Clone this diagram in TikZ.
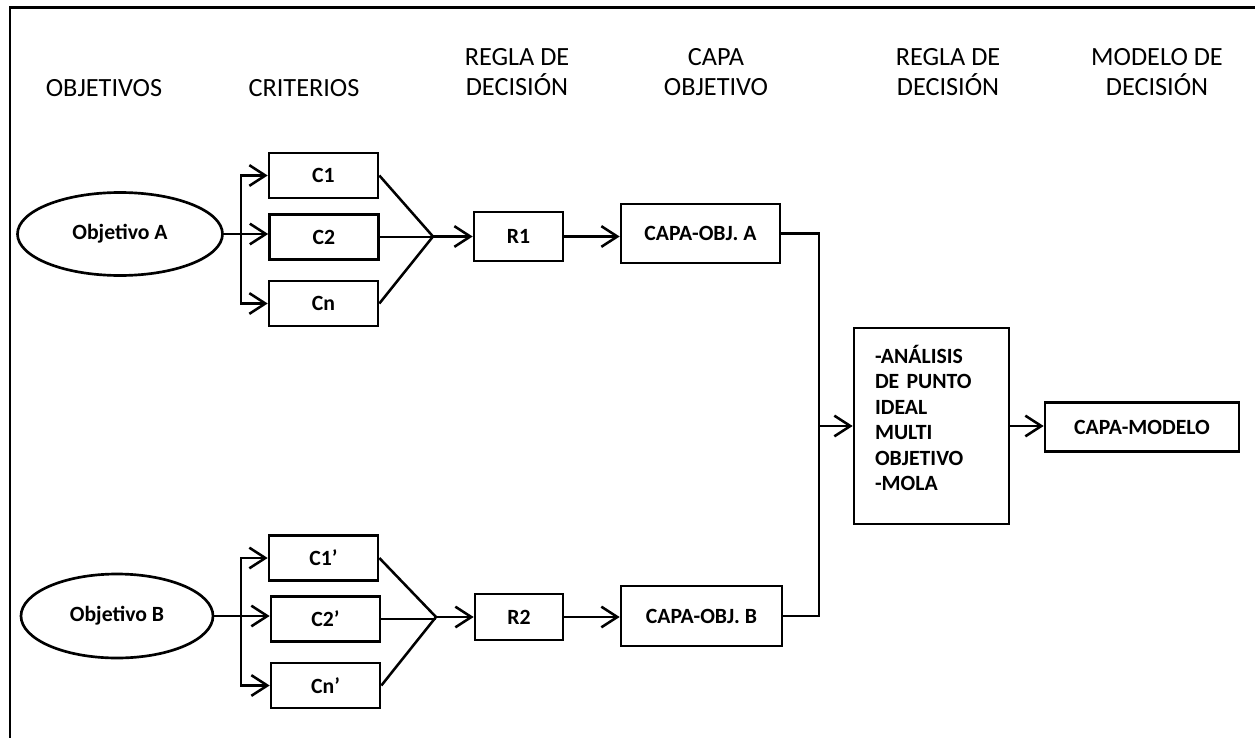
\documentclass[tikz,border=0pt]{standalone}
\usepackage{fontspec}
\setmainfont{Carlito}
\usetikzlibrary{arrows.meta,shapes.geometric}
\begin{document}
\begin{tikzpicture}[x=0.75pt,y=-0.75pt,
  ln/.style={line width=1.9pt},
  box/.style={draw, line width=2pt, inner sep=0pt, font=\bfseries\fontsize{16.3}{18}\selectfont},
  ell/.style={draw, ellipse, inner sep=0pt, line width=2pt, font=\bfseries\fontsize{16.3}{18}\selectfont},
  hdr/.style={font=\fontsize{19.7}{22.5}\selectfont, align=center, inner sep=0pt},
  arr/.style={ln, -{Straight Barb[length=12pt,width=15.5pt,line width=1.9pt]}},
  cbox/.style={box, minimum width=81.75pt, minimum height=33.75pt}]
\useasboundingbox (0,0) rectangle (1255,738);
\draw[line width=1.9pt] (10,738) -- (10,7.5) -- (1255,7.5);

% headers
\node[hdr] (h1) at (104,88) {OBJETIVOS};
\node[hdr] (h2) at (304,88) {CRITERIOS};
\node[hdr] (h3) at (517,72.5) {REGLA DE\\DECISIÓN};
\node[hdr] (h4) at (716,72.5) {CAPA\\OBJETIVO};
\node[hdr] (h5) at (948,72.5) {REGLA DE\\DECISIÓN};
\node[hdr] (h6) at (1157,72.5) {MODELO DE\\DECISIÓN};

% objectives
\node[ell, minimum width=153.75pt, minimum height=62.25pt] (oA) at (120,234) {Objetivo A};
\node[ell, minimum width=144pt, minimum height=63pt] (oB) at (117,616) {Objetivo B};

% criteria A
\node[cbox] (C1) at (323.5,175.5) {C1};
\node[cbox] (C2) at (324,237) {C2};
\node[cbox] (Cn) at (323.5,303.5) {Cn};
% criteria B
\node[cbox] (D1) at (323.5,558) {C1’};
\node[cbox] (D2) at (325.5,619) {C2’};
\node[cbox] (Dn) at (325.5,685.5) {Cn’};

% rules
\node[box, minimum width=66.75pt, minimum height=36.75pt] (R1) at (518.5,236.5) {R1};
\node[box, minimum width=66pt, minimum height=34.5pt] (R2) at (519,617) {R2};

% capa objetivo
\node[box, minimum width=119.25pt, minimum height=44.25pt] (OA) at (700.5,233.5) {CAPA-OBJ. A};
\node[box, minimum width=120.75pt, minimum height=45pt] (OB) at (701.5,616) {CAPA-OBJ. B};

% decision box
\node[box, align=left, text width=84.75pt, inner xsep=15.75pt, minimum height=147pt,
      font=\bfseries\fontsize{16.3}{19.1}\selectfont] (big) at (931.5,426)
  {-ANÁLISIS\\DE PUNTO\\IDEAL\\MULTI\\OBJETIVO\\-MOLA\rule[-12pt]{0pt}{0pt}};
\node[box, minimum width=145.5pt, minimum height=36.75pt] (CM) at (1142,427) {CAPA-MODELO};

% branches A
\coordinate (jA) at (241,234);
\draw[ln] (oA.east) -- (jA);
\draw[arr] (jA) |- (C1.west);
\draw[arr] (jA) |- (Cn.west);
\draw[arr] (jA) -- (jA -| C2.west);
\coordinate (mA) at (433,236.5);
\draw[ln] (C1.east) -- (mA) -- (Cn.east);
\draw[ln] (C2.east) -- (C2.east -| mA);
\draw[arr] (mA) -- (R1.west);
\draw[arr] (R1.east) -- (R1.east -| OA.west);

% branches B
\coordinate (jB) at (241,616);
\draw[ln] (oB.east) -- (jB);
\draw[arr] (jB) |- (D1.west);
\draw[arr] (jB) |- (Dn.west);
\draw[arr] (jB) -- (jB -| D2.west);
\coordinate (mB) at (436,617);
\draw[ln] (D1.east) -- (mB) -- (Dn.east);
\draw[ln] (D2.east) -- (D2.east -| mB);
\draw[arr] (mB) -- (R2.west);
\draw[arr] (R2.east) -- (R2.east -| OB.west);

% join to decision
\coordinate (jR) at (819,426);
\draw[ln] (OA.east) -| (jR) |- (OB.east);
\draw[arr] (jR) -- (big.west);
\draw[arr] (big.east) -- (big.east -| CM.west);
\end{tikzpicture}
\end{document}
